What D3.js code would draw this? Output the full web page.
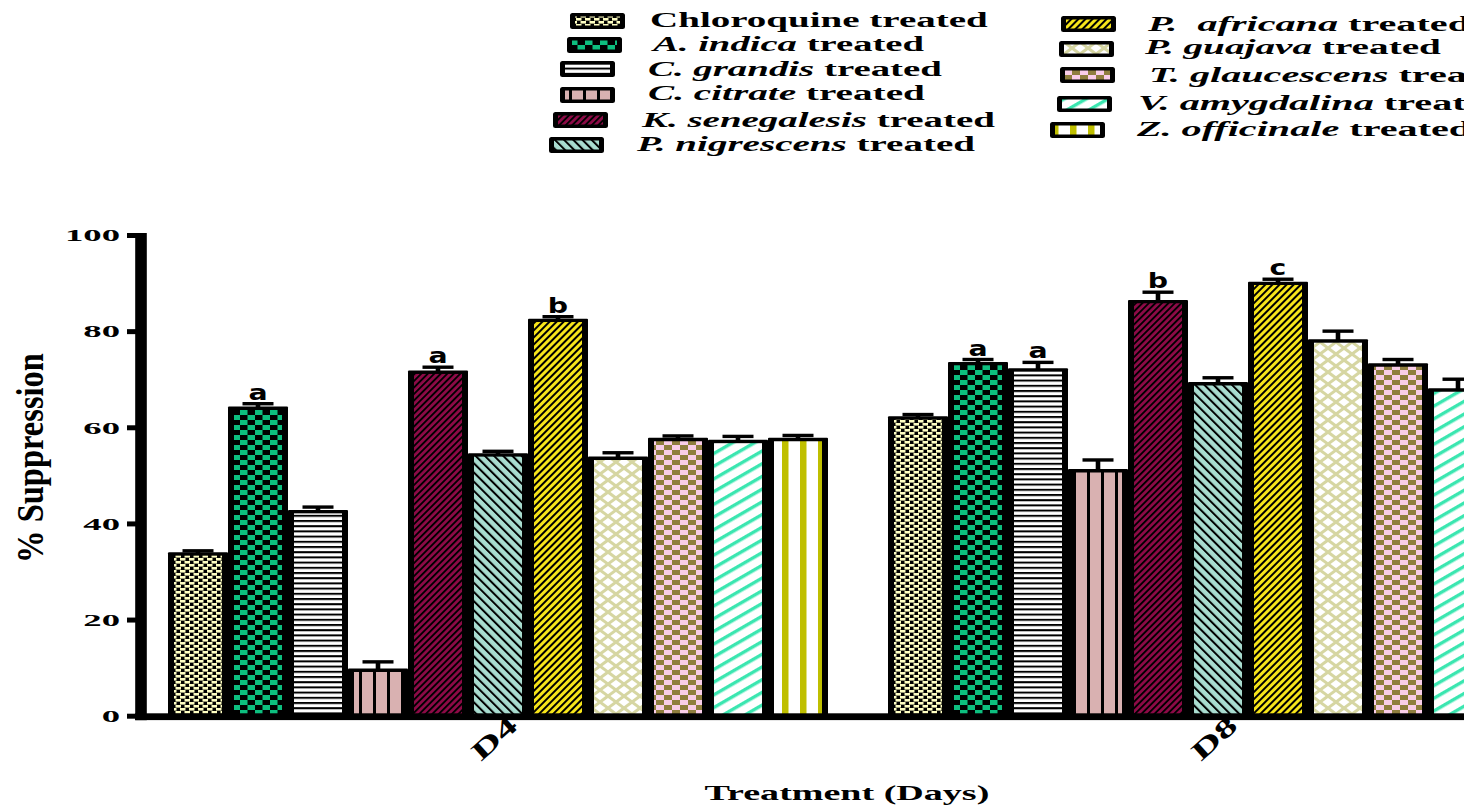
<!DOCTYPE html>
<html><head><meta charset="utf-8">
<script src="https://cdn.jsdelivr.net/npm/d3@7"></script>
<style>html,body{margin:0;padding:0;background:#fff;overflow:hidden}</style>
</head><body>
<svg id="c" width="1464" height="805" xmlns="http://www.w3.org/2000/svg"></svg>
<script>
// ---------- data ----------
const days = ["D4", "D8"];
const series = ["Chloroquine", "A. indica", "C. grandis", "C. citrate", "K. senegalesis",
  "P. nigrescens", "P. africana", "P. guajava", "T. glaucescens", "V. amygdalina", "Z. officinale"];
const valuesD4 = [34.0, 64.3, 42.8, 9.8, 71.8, 54.6, 82.6, 53.9, 57.8, 57.4, 57.8];
const valuesD8 = [62.3, 73.6, 72.3, 51.3, 86.5, 69.4, 90.3, 78.3, 73.3, 68.1, null];
const errorsD4 = [0.3, 0.6, 0.6, 1.4, 0.7, 0.4, 0.4, 0.8, 0.4, 0.7, 0.5];
const errorsD8 = [0.35, 0.5, 1.2, 1.9, 1.6, 0.9, 0.5, 1.7, 0.8, 1.9, null];
const lettersD4 = ["", "a", "", "", "a", "", "b", "", "", "", ""];
const lettersD8 = ["", "a", "a", "", "b", "", "c", "", "", "", ""];
const yTicks = [0, 20, 40, 60, 80, 100];
const legendItalic = ["", "A. indica", "C. grandis", "C. citrate", "K. senegalesis", "P. nigrescens",
  "P.  africana", "P. guajava", "T. glaucescens", "V. amygdalina", "Z. officinale"];
const legendPlain = ["Chloroquine treated", " treated", " treated", " treated", " treated", " treated",
  " treated", " treated", " treated", " treated", " treated"];
const yTitle = "% Suppression";
const xTitle = "Treatment (Days)";

// ---------- layout (positions / sizes only) ----------
const legendLayout = [ // swatch x, swatch y, text x, baseline, target width
  [570, 13, 650, 27, 338], [567, 37, 653, 51, 275], [560, 61, 648, 76, 294],
  [560, 87, 648, 100, 277], [553, 112, 642, 127, 355], [549, 137, 637, 151, 340],
  [1061, 16, 1148, 31, null], [1059, 41, 1145, 54, 298], [1060, 67, 1149, 82, null],
  [1057, 96, 1138, 110, null], [1050, 122, 1137, 136, null]
];

const svg = d3.select("#c");
const defs = svg.append("defs");
const SERIF = "Liberation Serif, Times New Roman, serif";
const SANS = "DejaVu Sans, Liberation Sans, Arial, sans-serif";

// ---------- patterns ----------
function pat(id, w, h, bg, tf) {
  const p = defs.append("pattern").attr("id", id).attr("patternUnits", "userSpaceOnUse")
    .attr("width", w).attr("height", h);
  if (tf) p.attr("patternTransform", tf);
  p.append("rect").attr("width", w).attr("height", h).attr("fill", bg);
  return p;
}
function checker(id, w, h, bg, fg) {
  const p = pat(id, w, h, bg);
  p.append("rect").attr("x", 0).attr("y", 0).attr("width", w / 2).attr("height", h / 2).attr("fill", fg);
  p.append("rect").attr("x", w / 2).attr("y", h / 2).attr("width", w / 2).attr("height", h / 2).attr("fill", fg);
}
function lines(id, spacing, lw, bg, fg, angle) {
  const p = pat(id, spacing, 10, bg, `rotate(${angle})`);
  p.append("rect").attr("x", 0).attr("y", 0).attr("width", lw).attr("height", 10).attr("fill", fg);
}
(function () {
  const p = pat("p0", 9, 6, "#000");
  p.append("rect").attr("x", 0).attr("y", 0).attr("width", 5.5).attr("height", 2.6).attr("fill", "#FFFFC2");
  p.append("rect").attr("x", 4.5).attr("y", 3).attr("width", 5.5).attr("height", 2.6).attr("fill", "#FFFFC2");
  p.append("rect").attr("x", -4.5).attr("y", 3).attr("width", 5.5).attr("height", 2.6).attr("fill", "#FFFFC2");
})();
checker("p1", 15, 10, "#000", "#0DBF7F");
(function () { const p = pat("p2", 6, 5.2, "#fff"); p.append("rect").attr("width", 6).attr("height", 2).attr("fill", "#000"); })();
(function () { const p = pat("p3", 14, 6, "#D9B1B1"); p.append("rect").attr("x", 9).attr("width", 3).attr("height", 6).attr("fill", "#000"); })();
lines("p4", 4.6, 1.9, "#8E0A47", "#000", 45);
lines("p5", 6.5, 2.0, "#A9DDD0", "#000", -45);
lines("p6", 5, 2.0, "#F7E51A", "#000", 45);
(function () {
  const p = pat("p7", 16, 12, "#fff");
  p.append("path").attr("d", "M-2,-1.5L18,13.5M-2,13.5L18,-1.5").attr("stroke", "#D6D6A2").attr("stroke-width", 3).attr("fill", "none");
})();
checker("p8", 16, 10, "#F9CDE8", "#8F7E3E");
lines("p9", 11, 3.4, "#fff", "#3BE6B0", 60);
(function () { const p = pat("p10", 18, 6, "#fff"); p.append("rect").attr("x", 8).attr("width", 6.5).attr("height", 6).attr("fill", "#BFBF00"); })();

// ---------- scales ----------
const x0 = d3.scaleBand().domain(days).range([168, 1548]).paddingInner(1 / 12).paddingOuter(0);
const x1 = d3.scaleBand().domain(series).range([0, x0.bandwidth()]).padding(0);
const y = d3.scaleLinear().domain([0, 100]).range([715.7, 235]);

const dataByDay = {
  D4: { v: valuesD4, e: errorsD4, l: lettersD4 },
  D8: { v: valuesD8, e: errorsD8, l: lettersD8 }
};

// ---------- bars ----------
const gBars = svg.append("g");
days.forEach(day => {
  const d = dataByDay[day];
  series.forEach((s, i) => {
    const v = d.v[i];
    if (v == null) return;
    const bx = x0(day) + x1(s), bw = x1.bandwidth();
    const top = y(v), bot = y(0);
    const cx = bx + bw / 2;
    const ey = y(v + d.e[i]);
    gBars.append("line").attr("x1", cx).attr("x2", cx).attr("y1", top + 2).attr("y2", ey)
      .attr("stroke", "#000").attr("stroke-width", 4.6);
    gBars.append("line").attr("x1", cx - 15.5).attr("x2", cx + 15.5).attr("y1", ey).attr("y2", ey)
      .attr("stroke", "#000").attr("stroke-width", 3.4);
    gBars.append("rect").attr("x", bx).attr("y", top).attr("width", bw).attr("height", bot - top)
      .attr("fill", "#000").attr("rx", 1);
    gBars.append("rect").attr("x", bx + 6).attr("y", top + 3.4).attr("width", bw - 12)
      .attr("height", Math.max(0, bot - top - 3.4)).attr("fill", `url(#p${i})`);
    if (d.l[i]) {
      gBars.append("text").attr("transform", `translate(${cx},${ey - 4}) scale(1.35,1)`)
        .attr("text-anchor", "middle").attr("font-family", SANS).attr("font-weight", "bold")
        .attr("font-size", 21).attr("fill", "#000").text(d.l[i]);
    }
  });
});

// ---------- axes ----------
svg.append("rect").attr("x", 135).attr("y", 713.3).attr("width", 1464).attr("height", 6.8).attr("fill", "#000");
const axisX = 141;
const gy = svg.append("g").attr("transform", `translate(${axisX},0)`)
  .call(d3.axisLeft(y).tickValues(yTicks).tickSize(14).tickSizeOuter(0));
gy.select(".domain").remove();
svg.append("rect").attr("x", 135.2).attr("y", y(100) - 2).attr("width", 11.6).attr("height", y(0) - y(100) + 6.5).attr("fill", "#000");
gy.selectAll(".tick line").attr("stroke", "#000").attr("stroke-width", 5);
gy.selectAll(".tick text").attr("x", null).attr("dy", null).attr("y", null)
  .attr("transform", "translate(-21,5.8) scale(2.1,1)")
  .attr("text-anchor", "end").attr("font-family", SERIF).attr("font-weight", "bold")
  .attr("font-size", 17.5).attr("fill", "#000");

const gx = svg.append("g").attr("transform", "translate(0,716)")
  .call(d3.axisBottom(x0).tickSize(0));
gx.select(".domain").remove();
gx.selectAll(".tick text").each(function () {
  const t = d3.select(this);
  t.attr("y", 0).attr("dy", null).attr("x", 0).attr("text-anchor", "middle")
    .attr("font-family", SERIF).attr("font-weight", "bold").attr("font-size", 20).attr("fill", "#000");
  const bb = this.getBBox();
  t.attr("transform", `translate(-4,22) rotate(-42) scale(2.1,1.3) translate(0,${-(bb.y + bb.height / 2)})`);
});

// ---------- titles ----------
function fitText(sel, tx, ty, rot, w, h) {
  const node = sel.node();
  const bb = node.getBBox();
  const sx = w / bb.width, sy = h ? h / bb.height : 1;
  sel.attr("transform", `translate(${tx},${ty}) rotate(${rot}) scale(${sx},${sy}) translate(${-(bb.x + bb.width / 2)},${-(bb.y + bb.height / 2)})`);
}
const yt = svg.append("text").attr("font-family", SERIF).attr("font-weight", "bold").attr("font-size", 20)
  .attr("fill", "#000").style("white-space", "pre").text(yTitle);
fitText(yt, 31, 458, -90, 210, 44);

const xt = svg.append("text").attr("font-family", SERIF).attr("font-weight", "bold").attr("font-size", 21)
  .attr("fill", "#000").text(xTitle);
(function () {
  const bb = xt.node().getBBox();
  const sx = 285 / bb.width;
  xt.attr("transform", `translate(${847 - 285 / 2},800) scale(${sx},1)`);
})();

// ---------- legend ----------
const gLeg = svg.append("g");
const sxList = [];
const legTexts = [];
series.forEach((s, i) => {
  const [sx0, sy0, tx, ty, tw] = legendLayout[i];
  gLeg.append("rect").attr("x", sx0).attr("y", sy0).attr("width", 55).attr("height", 16)
    .attr("rx", 2.5).attr("fill", "#000");
  gLeg.append("rect").attr("x", sx0 + 5).attr("y", sy0 + 3.5).attr("width", 45).attr("height", 9)
    .attr("fill", `url(#p${i})`);
  const t = gLeg.append("text").attr("font-family", SERIF).attr("font-weight", "bold").attr("font-size", 20)
    .attr("fill", "#000").style("white-space", "pre");
  if (legendItalic[i]) t.append("tspan").attr("font-style", "italic").text(legendItalic[i]);
  t.append("tspan").text(legendPlain[i]);
  const w = t.node().getBBox().width;
  if (tw) sxList.push(tw / w);
  legTexts.push({ t, tx, ty, tw, w });
});
const avgSx = d3.mean(sxList);
legTexts.forEach(o => {
  const sx = o.tw ? o.tw / o.w : avgSx * 1.03;
  o.t.attr("transform", `translate(${o.tx},${o.ty}) scale(${sx},1)`);
});
</script>
</body></html>
